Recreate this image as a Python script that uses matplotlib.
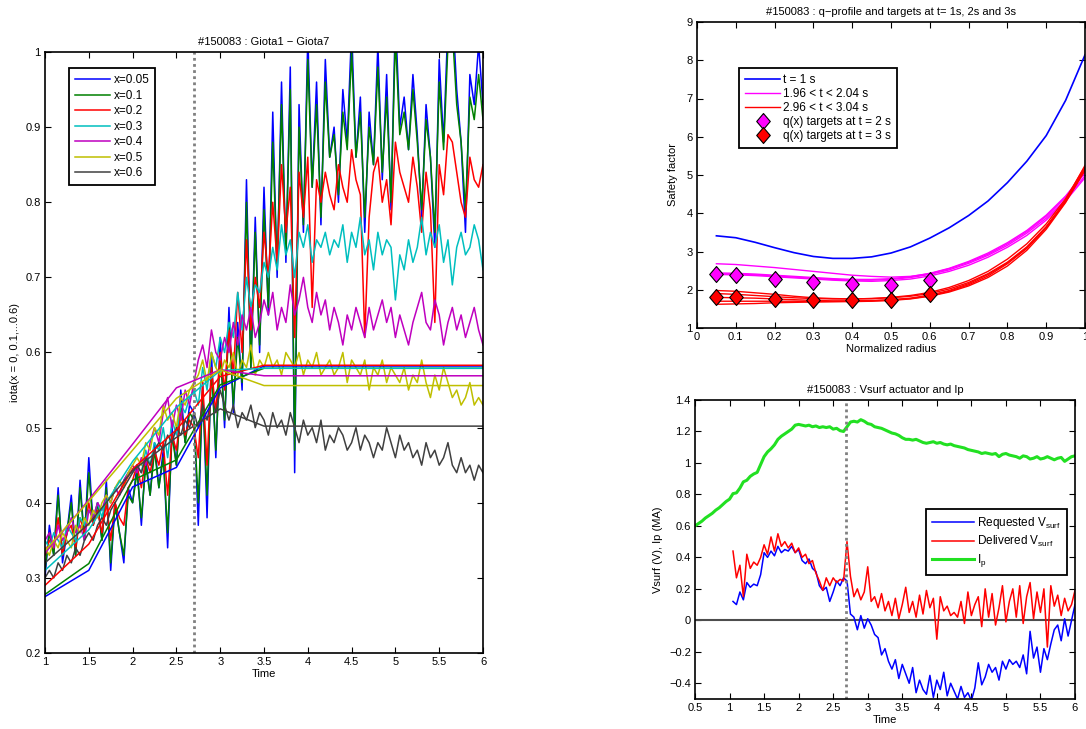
import matplotlib
matplotlib.use("Agg")
import matplotlib.pyplot as plt
from matplotlib.ticker import FuncFormatter
import numpy as np

plt.rcParams["font.family"] = ["Liberation Sans", "DejaVu Sans"]
plt.rcParams["mathtext.default"] = "regular"
plt.rcParams["axes.linewidth"] = 1.2

# --------------------------------------------------------------------------- #
# Left panel: iota traces, t = 1.00 .. 6.00 every 0.05 s
# --------------------------------------------------------------------------- #
iota_labels = ["x=0.05", "x=0.1", "x=0.2", "x=0.3", "x=0.4", "x=0.5", "x=0.6"]
iota_colors = ["#0000ff", "#008000", "#ff0000", "#00bfbf", "#bf00bf", "#bfbf00", "#404040"]

iota_005 = [0.30, 0.37, 0.33, 0.42, 0.32, 0.36, 0.41, 0.33, 0.43, 0.35,
            0.46, 0.37, 0.40, 0.35, 0.43, 0.31, 0.40, 0.36, 0.32, 0.42,
            0.40, 0.45, 0.37, 0.46, 0.41, 0.48, 0.42, 0.47, 0.34, 0.50,
            0.45, 0.55, 0.48, 0.53, 0.52, 0.37, 0.56, 0.38, 0.60, 0.46,
            0.62, 0.50, 0.66, 0.52, 0.64, 0.55, 0.83, 0.58, 0.78, 0.60,
            0.82, 0.65, 0.92, 0.70, 0.96, 0.72, 0.98, 0.44, 0.93, 0.76,
            1.02, 0.82, 0.96, 0.77, 0.99, 0.86, 0.90, 0.80, 0.95, 0.88,
            1.03, 0.86, 0.94, 0.76, 0.92, 0.85, 1.01, 0.83, 0.97, 0.79,
            1.05, 0.90, 0.94, 0.87, 0.97, 0.89, 0.78, 0.93, 0.86, 0.74,
            0.99, 0.88, 1.04, 1.06, 0.95, 0.88, 0.76, 0.97, 0.93, 1.01,
            0.93]
iota_01 = [0.31, 0.36, 0.33, 0.41, 0.33, 0.36, 0.40, 0.33, 0.42, 0.35,
           0.44, 0.37, 0.40, 0.35, 0.42, 0.32, 0.40, 0.36, 0.33, 0.41,
           0.40, 0.44, 0.38, 0.45, 0.41, 0.47, 0.42, 0.46, 0.36, 0.49,
           0.45, 0.53, 0.48, 0.52, 0.51, 0.40, 0.55, 0.41, 0.58, 0.47,
           0.60, 0.51, 0.64, 0.53, 0.62, 0.56, 0.80, 0.58, 0.76, 0.61,
           0.79, 0.66, 0.88, 0.71, 0.93, 0.73, 0.95, 0.47, 0.90, 0.77,
           0.99, 0.82, 0.93, 0.78, 0.96, 0.86, 0.89, 0.81, 0.92, 0.87,
           1.00, 0.86, 0.92, 0.78, 0.90, 0.85, 0.98, 0.84, 0.94, 0.80,
           1.02, 0.89, 0.92, 0.87, 0.95, 0.88, 0.79, 0.91, 0.86, 0.76,
           0.96, 0.87, 1.01, 1.03, 0.93, 0.88, 0.79, 0.94, 0.91, 0.97,
           0.91]
iota_02 = [0.33, 0.35, 0.34, 0.38, 0.33, 0.36, 0.37, 0.34, 0.38, 0.36,
           0.40, 0.37, 0.39, 0.36, 0.40, 0.35, 0.40, 0.38, 0.37, 0.42,
           0.43, 0.45, 0.42, 0.46, 0.44, 0.47, 0.45, 0.48, 0.41, 0.49,
           0.47, 0.52, 0.49, 0.51, 0.50, 0.46, 0.56, 0.45, 0.58, 0.52,
           0.60, 0.55, 0.63, 0.57, 0.68, 0.60, 0.75, 0.63, 0.70, 0.66,
           0.76, 0.70, 0.80, 0.72, 0.85, 0.76, 0.82, 0.62, 0.84, 0.78,
           0.86, 0.66, 0.83, 0.80, 0.84, 0.81, 0.79, 0.85, 0.82, 0.80,
           0.87, 0.83, 0.81, 0.62, 0.78, 0.84, 0.86, 0.80, 0.83, 0.77,
           0.88, 0.84, 0.82, 0.80, 0.86, 0.82, 0.76, 0.84, 0.79, 0.64,
           0.85, 0.81, 0.89, 0.88, 0.84, 0.80, 0.78, 0.86, 0.83, 0.82,
           0.85]
iota_03 = [0.35, 0.34, 0.36, 0.35, 0.34, 0.37, 0.36, 0.35, 0.38, 0.37,
           0.39, 0.38, 0.40, 0.38, 0.41, 0.40, 0.42, 0.41, 0.43, 0.44,
           0.44, 0.45, 0.44, 0.47, 0.45, 0.48, 0.47, 0.50, 0.46, 0.51,
           0.49, 0.53, 0.52, 0.54, 0.55, 0.53, 0.58, 0.55, 0.60, 0.58,
           0.62, 0.60, 0.64, 0.62, 0.68, 0.63, 0.70, 0.66, 0.69, 0.68,
           0.72, 0.70, 0.74, 0.71, 0.77, 0.73, 0.75, 0.70, 0.76, 0.74,
           0.77, 0.72, 0.75, 0.74, 0.76, 0.73, 0.75, 0.74, 0.77, 0.72,
           0.76, 0.74, 0.78, 0.73, 0.75, 0.71, 0.76, 0.73, 0.75, 0.74,
           0.67, 0.73, 0.71, 0.75, 0.72, 0.74, 0.78, 0.73, 0.76, 0.74,
           0.77, 0.72, 0.75, 0.69, 0.74, 0.76, 0.73, 0.74, 0.77, 0.75,
           0.71]
iota_04 = [0.35, 0.36, 0.34, 0.37, 0.35, 0.36, 0.38, 0.36, 0.37, 0.35,
           0.39, 0.38, 0.40, 0.39, 0.41, 0.40, 0.42, 0.41, 0.43, 0.44,
           0.45, 0.44, 0.46, 0.45, 0.48, 0.50, 0.48, 0.52, 0.54, 0.50,
           0.53, 0.51, 0.55, 0.53, 0.56, 0.59, 0.61, 0.58, 0.63, 0.60,
           0.59, 0.62, 0.60, 0.64, 0.61, 0.65, 0.63, 0.66, 0.62, 0.64,
           0.67, 0.65, 0.68, 0.63, 0.66, 0.64, 0.69, 0.65, 0.67, 0.70,
           0.66, 0.64, 0.68, 0.65, 0.67, 0.63, 0.66, 0.64, 0.61, 0.65,
           0.63, 0.66, 0.64, 0.62, 0.66, 0.63, 0.65, 0.67, 0.64, 0.66,
           0.62, 0.65, 0.63, 0.61, 0.64, 0.66, 0.68, 0.64, 0.63, 0.67,
           0.65, 0.61, 0.64, 0.66, 0.63, 0.65, 0.62, 0.64, 0.66, 0.63,
           0.61]
iota_05 = [0.34, 0.33, 0.35, 0.34, 0.36, 0.35, 0.34, 0.37, 0.36, 0.38,
           0.37, 0.39, 0.38, 0.40, 0.41, 0.40, 0.42, 0.43, 0.42, 0.44,
           0.45, 0.46, 0.45, 0.48, 0.47, 0.50, 0.49, 0.53, 0.51, 0.52,
           0.50, 0.54, 0.53, 0.55, 0.56, 0.57, 0.59, 0.56, 0.60, 0.58,
           0.57, 0.59, 0.58, 0.60, 0.57, 0.59, 0.58, 0.61, 0.57, 0.59,
           0.58, 0.60, 0.58, 0.59, 0.57, 0.60, 0.59, 0.58, 0.60, 0.57,
           0.59, 0.58, 0.60, 0.57, 0.58, 0.59, 0.57, 0.58, 0.60, 0.56,
           0.59, 0.58, 0.57, 0.59, 0.55, 0.58, 0.57, 0.59, 0.56, 0.58,
           0.57, 0.56, 0.58, 0.55, 0.57, 0.56, 0.59, 0.56, 0.54, 0.57,
           0.55, 0.58, 0.56, 0.54, 0.55, 0.53, 0.54, 0.56, 0.53, 0.54,
           0.53]
iota_06 = [0.30, 0.31, 0.30, 0.32, 0.31, 0.33, 0.32, 0.34, 0.33, 0.35,
           0.36, 0.35, 0.37, 0.38, 0.37, 0.39, 0.40, 0.41, 0.42, 0.43,
           0.44, 0.45, 0.44, 0.46, 0.45, 0.47, 0.48, 0.47, 0.49, 0.48,
           0.50, 0.49, 0.51, 0.50, 0.52, 0.50, 0.53, 0.51, 0.54, 0.52,
           0.55, 0.53, 0.51, 0.53, 0.50, 0.52, 0.51, 0.53, 0.50, 0.52,
           0.51, 0.49, 0.52, 0.50, 0.51, 0.49, 0.52, 0.50, 0.48, 0.51,
           0.49, 0.50, 0.48, 0.51, 0.47, 0.49, 0.48, 0.50, 0.49, 0.47,
           0.48, 0.50, 0.47, 0.49, 0.48, 0.46, 0.48, 0.47, 0.50, 0.48,
           0.46, 0.49, 0.47, 0.48, 0.46, 0.47, 0.45, 0.48, 0.46, 0.47,
           0.45, 0.46, 0.48, 0.45, 0.44, 0.46, 0.44, 0.45, 0.43, 0.45,
           0.44]
iota_meas = [iota_005, iota_01, iota_02, iota_03, iota_04, iota_05, iota_06]

# target trajectories (piecewise linear between knots)
target_t = [1.0, 1.5, 2.0, 2.5, 3.0, 3.5, 6.0]
target_005 = [0.275, 0.310, 0.421, 0.447, 0.553, 0.582, 0.582]
target_01 = [0.278, 0.319, 0.430, 0.457, 0.557, 0.579, 0.579]
target_02 = [0.290, 0.345, 0.445, 0.497, 0.568, 0.583, 0.583]
target_03 = [0.310, 0.364, 0.455, 0.527, 0.576, 0.579, 0.579]
target_04 = [0.333, 0.404, 0.478, 0.553, 0.577, 0.569, 0.569]
target_05 = [0.336, 0.402, 0.470, 0.539, 0.577, 0.556, 0.556]
target_06 = [0.320, 0.372, 0.443, 0.487, 0.525, 0.502, 0.502]
iota_targets = [target_005, target_01, target_02, target_03, target_04, target_05, target_06]

# --------------------------------------------------------------------------- #
# Top right: q-profiles vs normalized radius
# --------------------------------------------------------------------------- #
rho = [0.05, 0.10, 0.15, 0.20, 0.25, 0.30, 0.35, 0.40, 0.45, 0.50,
       0.55, 0.60, 0.65, 0.70, 0.75, 0.80, 0.85, 0.90, 0.95, 1.00]
q_t1 = [3.41, 3.36, 3.24, 3.10, 2.97, 2.87, 2.82, 2.82, 2.86, 2.96,
        3.12, 3.35, 3.62, 3.94, 4.32, 4.80, 5.36, 6.03, 6.95, 8.14]
q_t2 = [
    [2.68, 2.66, 2.62, 2.58, 2.53, 2.48, 2.43, 2.38, 2.35, 2.33,
     2.35, 2.42, 2.55, 2.72, 2.93, 3.20, 3.52, 3.92, 4.42, 5.05],
    [2.44, 2.43, 2.41, 2.38, 2.35, 2.32, 2.29, 2.27, 2.27, 2.29,
     2.34, 2.43, 2.56, 2.74, 2.96, 3.23, 3.55, 3.95, 4.45, 5.08],
    [2.42, 2.41, 2.39, 2.36, 2.33, 2.30, 2.27, 2.25, 2.25, 2.27,
     2.32, 2.40, 2.52, 2.69, 2.90, 3.16, 3.48, 3.87, 4.36, 4.98],
    [2.40, 2.39, 2.37, 2.34, 2.31, 2.28, 2.25, 2.23, 2.22, 2.24,
     2.28, 2.36, 2.48, 2.64, 2.85, 3.11, 3.42, 3.82, 4.32, 4.93],
]
q_t3 = [
    [1.98, 1.96, 1.92, 1.88, 1.83, 1.79, 1.77, 1.76, 1.77, 1.80,
     1.85, 1.93, 2.06, 2.24, 2.48, 2.80, 3.20, 3.72, 4.38, 5.22],
    [1.90, 1.88, 1.85, 1.82, 1.79, 1.77, 1.76, 1.76, 1.77, 1.79,
     1.83, 1.90, 2.02, 2.19, 2.42, 2.72, 3.12, 3.65, 4.32, 5.18],
    [1.80, 1.79, 1.78, 1.76, 1.74, 1.72, 1.71, 1.71, 1.72, 1.74,
     1.78, 1.86, 1.98, 2.16, 2.40, 2.70, 3.10, 3.62, 4.30, 5.15],
    [1.70, 1.70, 1.70, 1.70, 1.70, 1.69, 1.69, 1.69, 1.70, 1.72,
     1.76, 1.83, 1.94, 2.10, 2.32, 2.62, 3.03, 3.58, 4.28, 5.12],
    [1.62, 1.63, 1.64, 1.66, 1.67, 1.68, 1.69, 1.70, 1.71, 1.73,
     1.77, 1.84, 1.96, 2.13, 2.36, 2.68, 3.08, 3.63, 4.34, 5.25],
]
target_rho = [0.05, 0.1, 0.2, 0.3, 0.4, 0.5, 0.6]
q_target_t2 = [2.40, 2.38, 2.28, 2.20, 2.14, 2.12, 2.25]
q_target_t3 = [1.82, 1.80, 1.76, 1.74, 1.72, 1.72, 1.90]

# --------------------------------------------------------------------------- #
# Bottom right: Vsurf actuator and Ip
# --------------------------------------------------------------------------- #
ip = [0.600, 0.615, 0.630, 0.650, 0.665, 0.680, 0.700, 0.715, 0.735, 0.755,
      0.770, 0.805, 0.810, 0.840, 0.880, 0.890, 0.915, 0.930, 0.940, 0.990,
      1.040, 1.070, 1.090, 1.115, 1.150, 1.170, 1.185, 1.200, 1.215, 1.240,
      1.245, 1.240, 1.235, 1.240, 1.230, 1.235, 1.225, 1.230, 1.225, 1.230,
      1.215, 1.220, 1.205, 1.200, 1.230, 1.260, 1.265, 1.260, 1.275, 1.265,
      1.250, 1.245, 1.230, 1.225, 1.220, 1.210, 1.200, 1.190, 1.185, 1.175,
      1.160, 1.150, 1.150, 1.145, 1.150, 1.140, 1.130, 1.125, 1.130, 1.135,
      1.125, 1.130, 1.120, 1.115, 1.120, 1.110, 1.105, 1.100, 1.095, 1.085,
      1.080, 1.075, 1.070, 1.060, 1.065, 1.060, 1.055, 1.060, 1.040, 1.055,
      1.060, 1.050, 1.045, 1.040, 1.030, 1.045, 1.040, 1.025, 1.030, 1.040,
      1.025, 1.030, 1.040, 1.030, 1.020, 1.030, 1.035, 1.010, 1.025, 1.040,
      1.045]   # t = 0.50 .. 6.00 every 0.05

v_req = [0.12, 0.10, 0.18, 0.13, 0.24, 0.21, 0.23, 0.22, 0.29, 0.43,
         0.40, 0.44, 0.41, 0.47, 0.43, 0.45, 0.44, 0.47, 0.43, 0.45,
         0.38, 0.36, 0.39, 0.33, 0.31, 0.22, 0.19, 0.21, 0.12, 0.18,
         0.25, 0.22, 0.27, 0.25, 0.04, 0.02, -0.06, 0.03, -0.05, 0.01,
         -0.03, -0.09, -0.11, -0.22, -0.18, -0.26, -0.31, -0.25, -0.37, -0.28,
         -0.34, -0.40, -0.30, -0.46, -0.38, -0.44, -0.47, -0.35, -0.49, -0.38,
         -0.44, -0.33, -0.48, -0.40, -0.45, -0.50, -0.42, -0.49, -0.46, -0.51,
         -0.43, -0.27, -0.41, -0.36, -0.28, -0.33, -0.30, -0.38, -0.26, -0.31,
         -0.25, -0.28, -0.26, -0.30, -0.22, -0.34, -0.07, -0.24, -0.17, -0.33,
         -0.18, -0.25, -0.15, -0.06, -0.03, -0.13, 0.01, -0.10, 0.00, 0.10]
v_del = [0.44, 0.27, 0.35, 0.15, 0.42, 0.33, 0.37, 0.35, 0.40, 0.48,
         0.42, 0.53, 0.44, 0.55, 0.47, 0.50, 0.46, 0.49, 0.43, 0.46,
         0.40, 0.42, 0.36, 0.38, 0.30, 0.25, 0.19, 0.27, 0.22, 0.27,
         0.24, 0.26, 0.25, 0.50, 0.28, 0.15, 0.20, 0.13, 0.18, 0.34,
         0.12, 0.15, 0.08, 0.17, 0.06, 0.12, 0.03, 0.14, 0.01, 0.10,
         0.21, 0.05, 0.12, 0.02, 0.16, 0.04, 0.19, 0.08, 0.14, -0.12,
         0.15, 0.06, 0.09, 0.03, 0.05, 0.02, 0.12, -0.02, 0.18, 0.03,
         0.10, 0.15, -0.04, 0.20, 0.02, 0.17, -0.03, 0.08, 0.22, -0.01,
         0.12, 0.20, 0.02, 0.22, -0.02, 0.15, 0.24, 0.01, 0.18, 0.05,
         0.20, -0.17, 0.22, 0.09, 0.16, 0.03, 0.14, 0.06, 0.10, 0.19]
# both Vsurf traces: t = 1.05 .. 6.00 every 0.05

MINUS = "\u2212"
# Matlab-style diamond: a little taller than wide
DIAMOND = [(0, 1), (0.85, 0), (0, -1), (-0.85, 0), (0, 1)]


def _fmt(v, pos):
    s = "%g" % round(v, 6)
    return s.replace("-", MINUS)


def matlab_axes(ax):
    """Inward ticks on all four sides, black box, small labels."""
    ax.tick_params(direction="in", top=True, right=True, length=4,
                   width=0.8, labelsize=8, pad=3)
    ax.xaxis.set_major_formatter(FuncFormatter(_fmt))
    ax.yaxis.set_major_formatter(FuncFormatter(_fmt))


def legend_box(ax, **kw):
    opts = dict(fontsize=8.5, fancybox=False, framealpha=1, borderaxespad=0,
                handlelength=3.0, handletextpad=0.25, labelspacing=0.3,
                borderpad=0.5)
    opts.update(kw)
    leg = ax.legend(**opts)
    leg.get_frame().set_edgecolor("black")
    leg.get_frame().set_linewidth(1.3)
    return leg


W, H = 1086, 729
fig = plt.figure(figsize=(W / 100, H / 100), dpi=100)


def px_axes(l, r, t, b):
    return fig.add_axes([l / W, 1 - b / H, (r - l) / W, (b - t) / H])


# ---------------------------- left panel ---------------------------------- #
ax1 = px_axes(45, 483, 52, 653)
for vals, col, lab in zip(iota_meas, iota_colors, iota_labels):
    t = np.linspace(1, 6, len(vals))
    ax1.plot(t, vals, color=col, lw=1.1, label=lab)
for vals, col in zip(iota_targets, iota_colors):
    ax1.plot(target_t, vals, color=col, lw=1.1)
ax1.axvline(2.7, color="0.5", lw=2, ls=(0, (1, 1.2)))
ax1.set_xlim(1, 6)
ax1.set_ylim(0.2, 1)
ax1.set_xticks(np.arange(1, 6.01, 0.5))
ax1.set_yticks(np.arange(0.2, 1.01, 0.1))
matlab_axes(ax1)
ax1.set_xlabel("Time", fontsize=8, labelpad=1)
ax1.set_ylabel("iota(x = 0, 0.1,...0.6)", fontsize=8, labelpad=4)
ax1.set_title("#150083 : Giota1 " + MINUS + " Giota7", fontsize=8, pad=5)
legend_box(ax1, loc="upper left", bbox_to_anchor=(0.055, 0.973))

# ---------------------------- top right ----------------------------------- #
ax2 = px_axes(697, 1085, 22, 328)
ax2.plot(rho, q_t1, color="#0000ff", lw=1.2, label="t = 1 s")
for i, q in enumerate(q_t2):
    ax2.plot(rho, q, color="#ff00ff", lw=1.0, label="1.96 < t < 2.04 s" if i == 0 else None)
for i, q in enumerate(q_t3):
    ax2.plot(rho, q, color="#ff0000", lw=1.0, label="2.96 < t < 3.04 s" if i == 0 else None)
ax2.plot(target_rho, q_target_t2, ls="none", marker=DIAMOND, ms=11.5, mfc="#ff00ff",
         mec="black", mew=0.8, label="q(x) targets at t = 2 s")
ax2.plot(target_rho, q_target_t3, ls="none", marker=DIAMOND, ms=11.5, mfc="#ff0000",
         mec="black", mew=0.8, label="q(x) targets at t = 3 s")
ax2.set_xlim(0, 1)
ax2.set_ylim(1, 9)
ax2.set_xticks(np.arange(0, 1.01, 0.1))
ax2.set_yticks(np.arange(1, 9.1, 1))
matlab_axes(ax2)
ax2.set_xlabel("Normalized radius", fontsize=8, labelpad=1)
ax2.set_ylabel("Safety factor", fontsize=8, labelpad=6)
ax2.set_title("#150083 : q" + MINUS + "profile and targets at t= 1s, 2s and 3s",
              fontsize=8, pad=5)
legend_box(ax2, loc="upper left", bbox_to_anchor=(0.108, 0.85), labelspacing=0.18)

# ---------------------------- bottom right -------------------------------- #
ax3 = px_axes(695, 1075, 400, 699)
tv = np.linspace(1.05, 6.0, len(v_req))
ti = np.linspace(0.5, 6.0, len(ip))
ax3.axhline(0, color="0.3", lw=1.5)
ax3.plot(tv, v_req, color="#0000ff", lw=1.1, label="Requested V$_{surf}$")
ax3.plot(tv, v_del, color="#ff0000", lw=1.1, label="Delivered V$_{surf}$")
ax3.plot(ti, ip, color="#22e022", lw=2.2, label="I$_{p}$")
ax3.axvline(2.68, color="0.5", lw=2, ls=(0, (1, 1.2)))
ax3.set_xlim(0.5, 6)
ax3.set_ylim(-0.5, 1.4)
ax3.set_xticks(np.arange(0.5, 6.01, 0.5))
ax3.set_yticks(np.arange(-0.4, 1.41, 0.2))
matlab_axes(ax3)
ax3.set_xlabel("Time", fontsize=8, labelpad=1)
ax3.set_ylabel("Vsurf (V), Ip (MA)", fontsize=8, labelpad=4)
ax3.set_title("#150083 : Vsurf actuator and Ip", fontsize=8, pad=5)
legend_box(ax3, loc="upper right", bbox_to_anchor=(0.979, 0.635), handlelength=3.6,
           labelspacing=0.25)

fig.savefig("out.png", dpi=100)
